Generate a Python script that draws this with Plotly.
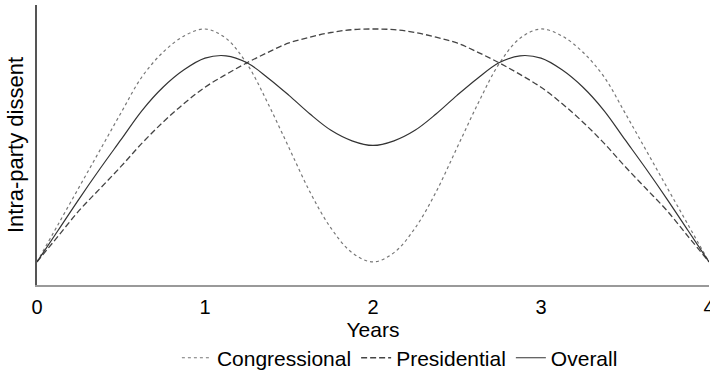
import plotly.graph_objects as go

years = [0, 0.125, 0.25, 0.375, 0.5, 0.625, 0.75, 0.875, 1.0,
         1.125, 1.25, 1.375, 1.5, 1.625, 1.75, 1.875, 2.0,
         2.125, 2.25, 2.375, 2.5, 2.625, 2.75, 2.875, 3.0,
         3.125, 3.25, 3.375, 3.5, 3.625, 3.75, 3.875, 4.0]
congressional = [0, 0.16, 0.32, 0.48, 0.64, 0.795, 0.90, 0.97, 1.0,
                 0.96, 0.85, 0.68, 0.49, 0.30, 0.145, 0.04, 0.0,
                 0.04, 0.145, 0.30, 0.49, 0.68, 0.85, 0.96, 1.0,
                 0.97, 0.90, 0.795, 0.64, 0.48, 0.32, 0.16, 0]
presidential = [0, 0.11, 0.22, 0.315, 0.41, 0.51, 0.60, 0.68, 0.75,
                0.805, 0.855, 0.90, 0.94, 0.965, 0.985, 0.997, 1.0,
                0.997, 0.985, 0.965, 0.94, 0.90, 0.855, 0.805, 0.75,
                0.68, 0.60, 0.51, 0.41, 0.315, 0.22, 0.11, 0]
overall = [0, 0.135, 0.27, 0.40, 0.525, 0.65, 0.75, 0.825, 0.875,
           0.885, 0.855, 0.79, 0.715, 0.635, 0.565, 0.52, 0.50,
           0.52, 0.565, 0.635, 0.715, 0.79, 0.855, 0.885, 0.875,
           0.825, 0.75, 0.65, 0.525, 0.40, 0.27, 0.135, 0]
tick_vals = [0, 1, 2, 3, 4]
tick_text = ["0", "1", "2", "3", "4"]

FONT = "Liberation Sans, Arial, sans-serif"

fig = go.Figure()
fig.add_trace(go.Scatter(x=years, y=congressional, name="Congressional", mode="lines",
                         line=dict(color="#777777", width=1.2, dash="dot",
                                   shape="spline", smoothing=1.0)))
fig.add_trace(go.Scatter(x=years, y=presidential, name="Presidential", mode="lines",
                         line=dict(color="#444444", width=1.3, dash="6px,3px",
                                   shape="spline", smoothing=1.0)))
fig.add_trace(go.Scatter(x=years, y=overall, name="Overall", mode="lines",
                         line=dict(color="#333333", width=1.2,
                                   shape="spline", smoothing=1.0)))

fig.update_layout(
    width=710, height=378,
    margin=dict(l=37, r=1, t=5, b=93, autoexpand=False),
    paper_bgcolor="white", plot_bgcolor="white",
    font=dict(family=FONT, size=21, color="black"),
    showlegend=True,
    legend=dict(orientation="h", x=0.54, xanchor="center", y=-0.261, yanchor="middle",
                font=dict(size=21), itemwidth=30, tracegroupgap=0),
    xaxis=dict(range=[0, 4], tickvals=tick_vals, ticktext=tick_text,
               showgrid=False, zeroline=False, showline=True, linecolor="#999999",
               linewidth=2, ticks="", tickfont=dict(size=20),
               ticklabelstandoff=3, ticklabeloverflow="allow", automargin=False,
               title=dict(text="Years", font=dict(size=21), standoff=5)),
    yaxis=dict(range=[-0.099, 1.103], showticklabels=False, showgrid=False, zeroline=False,
               showline=True, linecolor="#555555", linewidth=1.5, ticks="", automargin=False,
               title=dict(text="Intra-party dissent", font=dict(size=22), standoff=6)),
)

fig.write_html("out.html", config={"displayModeBar": False},
               post_script="document.body.style.margin='0';")
